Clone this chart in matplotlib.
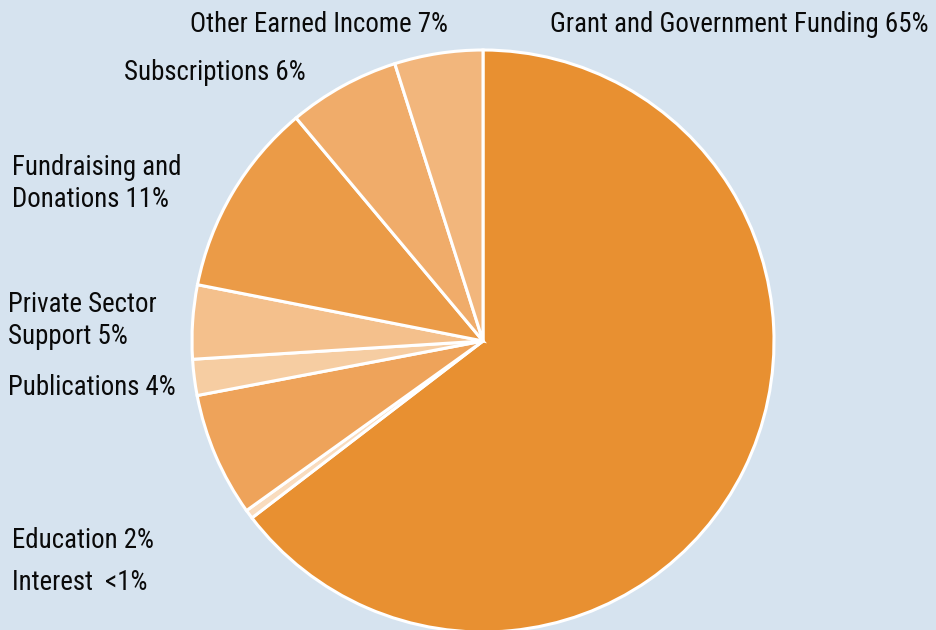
import matplotlib
matplotlib.use("Agg")
import matplotlib.pyplot as plt
from matplotlib import font_manager

# Slice data, clockwise from 12 o'clock
categories = ["Grant and Government Funding", "Interest", "Other Earned Income",
              "Education", "Publications", "Fundraising and Donations",
              "Subscriptions", "Private Sector Support"]
values = [64.6, 0.5, 6.9, 2.0, 4.1, 10.8, 6.2, 4.9]
colors = ["#e89031", "#f9dcbe", "#eea35a", "#f6cda2", "#f4c08c",
          "#eb9b47", "#f0ac6a", "#f2b67c"]

# Label text as printed on the chart
label_lines = [
    ["Grant and Government Funding 65%"],
    ["Other Earned Income 7%"],
    ["Subscriptions 6%"],
    ["Fundraising and", "Donations 11%"],
    ["Private Sector", "Support 5%"],
    ["Publications 4%"],
    ["Education 2%"],
    ["Interest  <1%"],
]
label_pos = [(550, 32), (190, 32), (124, 80), (12, 175), (8, 312),
             (8, 395), (12, 548), (12, 590)]

avail = {f.name for f in font_manager.fontManager.ttflist}
fam = [f for f in ["Liberation Sans Narrow", "Roboto Condensed", "Liberation Sans", "DejaVu Sans"] if f in avail]

W, H = 936, 630
fig = plt.figure(figsize=(W / 100, H / 100), dpi=100)
fig.patch.set_facecolor("#d6e3ef")
ax = fig.add_axes([0, 0, 1, 1])
ax.set_xlim(0, W)
ax.set_ylim(0, H)
ax.set_aspect("equal")
ax.axis("off")

ax.pie(values, colors=colors, startangle=90, counterclock=False,
       center=(483, H - 341), radius=291,
       wedgeprops=dict(edgecolor="white", linewidth=2.2))
ax.set_xlim(0, W)
ax.set_ylim(0, H)

for lines, (x, y) in zip(label_lines, label_pos):
    for i, ln in enumerate(lines):
        ax.text(x, H - (y + 32 * i), ln, family=fam, fontsize=19.4,
                color="#0a0a0a", ha="left", va="baseline")

fig.savefig("out.png", dpi=100, facecolor=fig.get_facecolor())
